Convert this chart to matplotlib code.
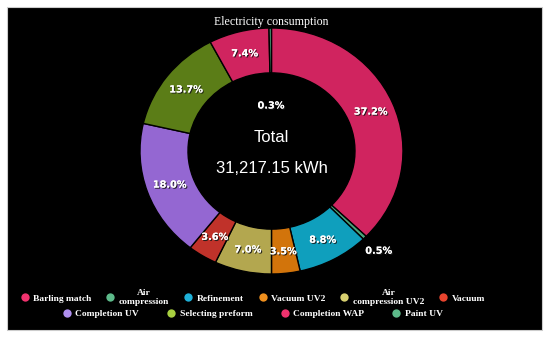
import matplotlib
matplotlib.use("Agg")
import matplotlib.pyplot as plt
import matplotlib.patheffects as pe
from matplotlib.lines import Line2D
from matplotlib.patches import Rectangle
import numpy as np

# data
labels = ["Barling match", "Air\ncompression", "Refinement", "Vacuum UV2",
          "Air\ncompression UV2", "Vacuum", "Completion UV", "Selecting preform",
          "Completion WAP", "Paint UV"]
shares = [37.2, 0.5, 8.8, 3.5, 7.0, 3.6, 18.0, 13.7, 7.4, 0.3]
slice_colors = ["#d0245f", "#4aa37c", "#0f9fbd", "#d2740b", "#b3a74f",
                "#c0322a", "#9467d2", "#5b7d17", "#d0245f", "#4aa37c"]
legend_colors = ["#f0326e", "#5dba8a", "#1eb0d8", "#f0901e", "#d8d070",
                 "#e8442e", "#b090f0", "#a8d040", "#f0326e", "#5dba8a"]
total_text = "31,217.15 kWh"

fig = plt.figure(figsize=(5.5, 3.37), dpi=100, facecolor="white")
# black panel
fig.patches.append(Rectangle((0.0127, 0.0208), 0.9728, 0.958, transform=fig.transFigure,
                             facecolor="black", edgecolor="#cccccc", linewidth=0.8, zorder=-5))

ax = fig.add_axes([0.2067, 0.1139, 0.5738, 0.876])
ax.set_zorder(2)
wedges, _ = ax.pie(shares, colors=slice_colors, startangle=90, counterclock=False,
                   radius=1.0, wedgeprops=dict(width=0.365, edgecolor="black", linewidth=1))
ax.set_xlim(-1.2, 1.2)
ax.set_ylim(-1.2, 1.2)
ax.set_aspect("auto")
ax.axis("off")

shadow = [pe.withSimplePatchShadow(offset=(0.8, -0.8), shadow_rgbFace="#1a1a1a", alpha=0.9), pe.Normal()]
for i, w in enumerate(wedges):
    mid = np.deg2rad((w.theta1 + w.theta2) / 2)
    r = 0.82
    if shares[i] == 0.5:
        r = 1.15
    elif shares[i] == 0.3:
        r = 0.37
    ax.text(r * np.cos(mid), r * np.sin(mid), f"{shares[i]:.1f}%", ha="center", va="center",
            color="white", fontsize=7, fontweight="bold", family="DejaVu Sans",
            path_effects=shadow)

ax.text(0, 0.11, "Total", ha="center", va="center", color="white", fontsize=12,
        family="Liberation Sans")
ax.text(0, -0.14, total_text, ha="center", va="center", color="white", fontsize=12,
        family="Liberation Sans")

fig.text(0.4927, 0.935, "Electricity consumption", ha="center", va="center",
         color="white", fontsize=8.6, family="Liberation Serif")

def make_handles(idx):
    return [Line2D([], [], marker="o", linestyle="none", markersize=6,
                   markerfacecolor=legend_colors[i], markeredgecolor="none") for i in idx]

row1 = list(range(6))
row2 = list(range(6, 10))
leg_kw = dict(frameon=False, handlelength=0.8, handletextpad=0.5, borderpad=0,
              prop=dict(family="Liberation Serif", weight="bold", size=6.8), labelcolor="white")
leg1 = fig.legend(make_handles(row1), [labels[i] for i in row1], ncol=6, loc="lower center",
                  bbox_to_anchor=(0.46, 1 - 311 / 337), columnspacing=1.6, **leg_kw)
leg2 = fig.legend(make_handles(row2), [labels[i] for i in row2], ncol=4, loc="lower center",
                  bbox_to_anchor=(0.46, 1 - 323 / 337), columnspacing=3.0, **leg_kw)
for leg in (leg1, leg2):
    for t in leg.get_texts():
        t.set_multialignment("center")

fig.savefig("out.png", dpi=100, facecolor="white")
